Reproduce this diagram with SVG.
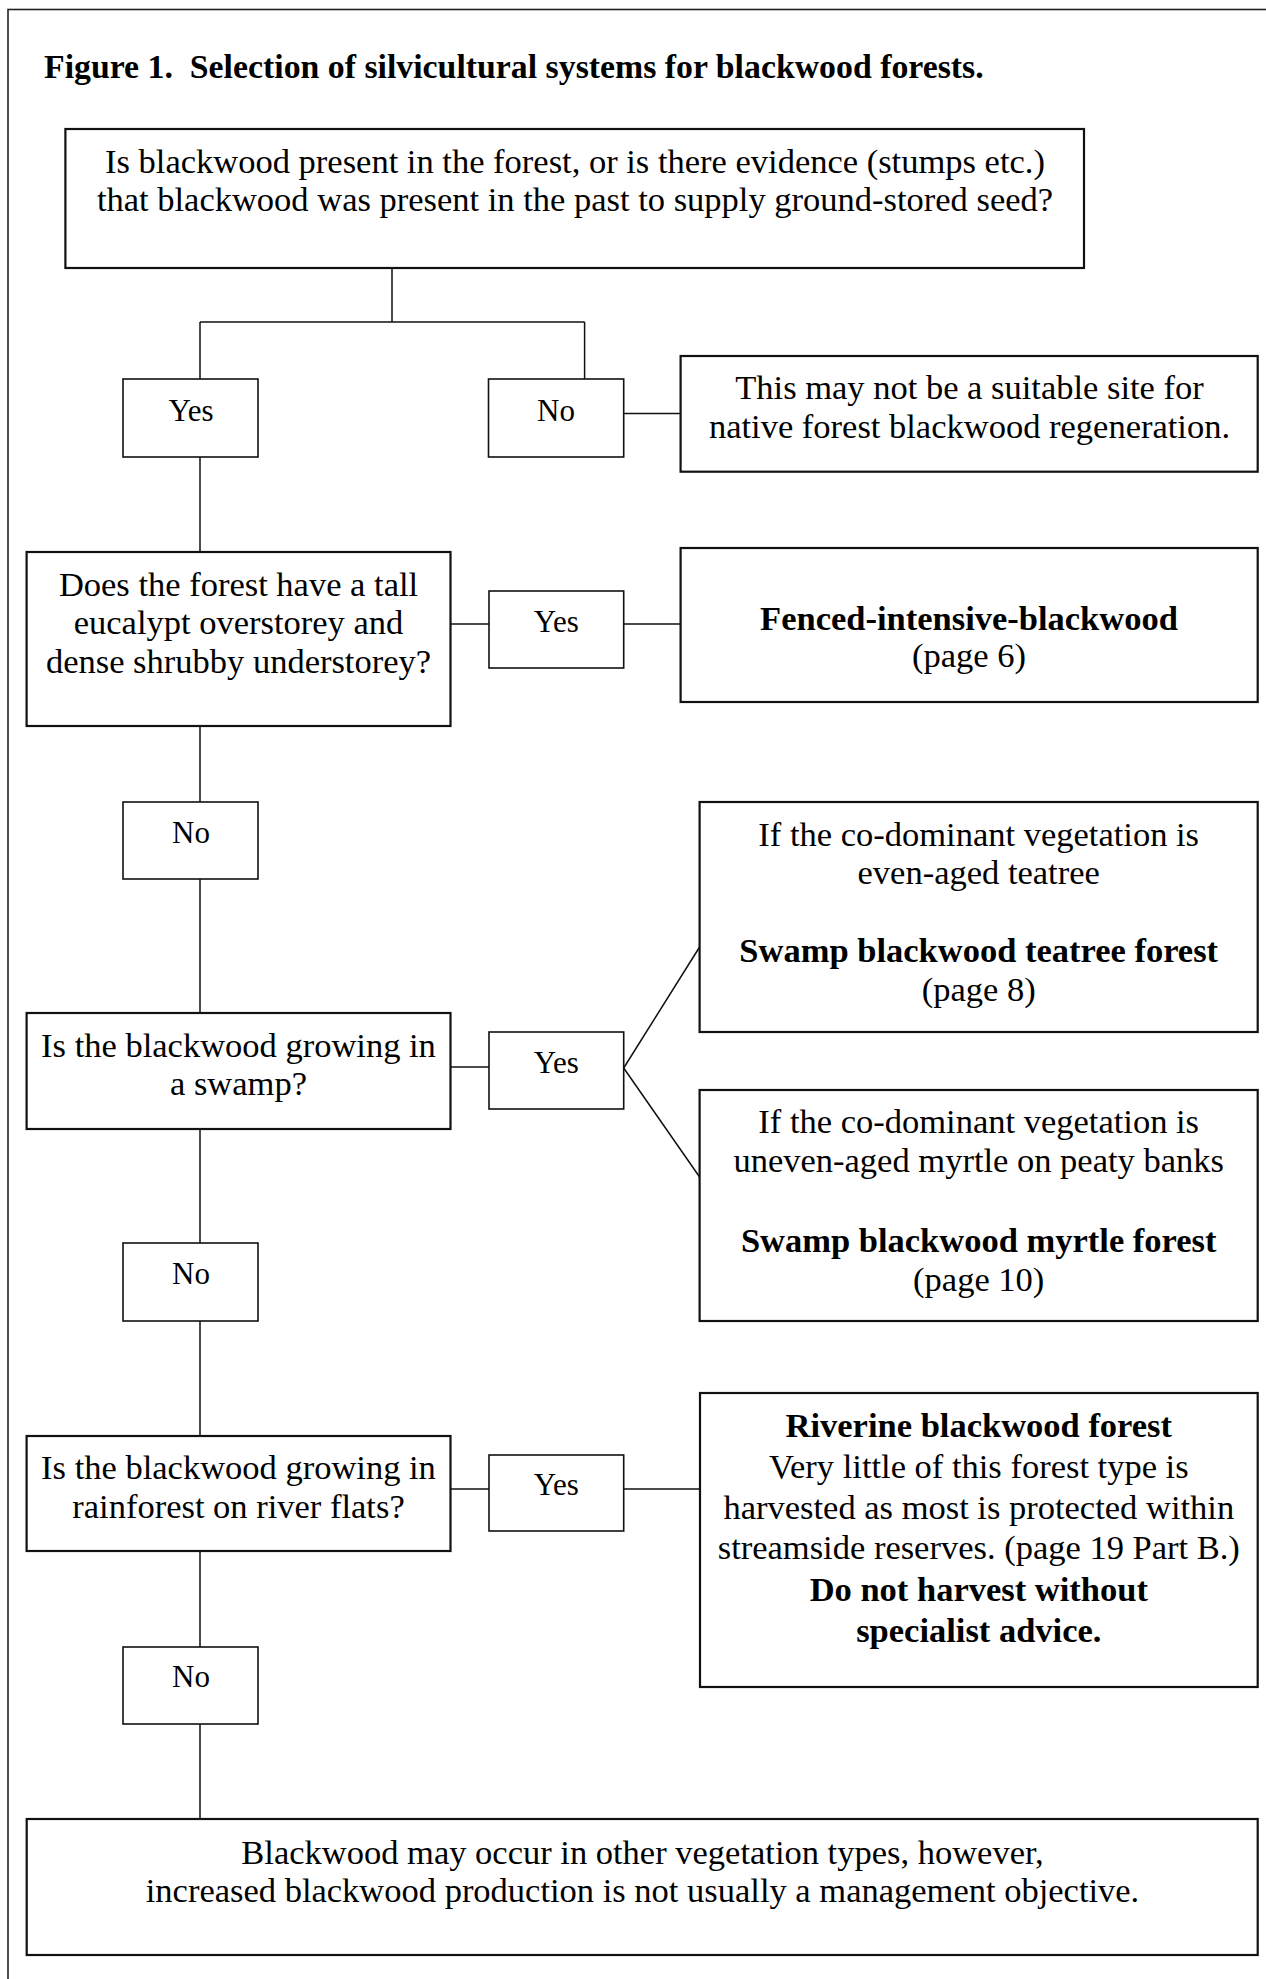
<svg xmlns="http://www.w3.org/2000/svg" width="1266" height="1979" viewBox="0 0 1266 1979">
<style>
.frame{fill:none;stroke:#222;stroke-width:1.6}
.box{fill:#fff;stroke:#111;stroke-width:2.2}
.sbox{fill:#fff;stroke:#111;stroke-width:1.6}
.conn{fill:none;stroke:#111;stroke-width:1.5}
text{font-family:"Liberation Serif","Times New Roman",serif;fill:#000}
.t{font-size:34.5px;text-anchor:middle}
.b{font-weight:bold}
.lbl{font-size:31px;text-anchor:middle}
.title{font-size:33.8px;font-weight:bold}
</style>
<rect x="8" y="9.5" width="1270" height="2000" fill="#fff" class="frame"/>
<g id="title"><text class="title" x="44" y="78" xml:space="preserve">Figure 1.  Selection of silvicultural systems for blackwood forests.</text></g>
<g id="connectors">
<path class="conn" d="M392,268V322M200,322H584.6M200,322V379M584.6,322V379"/>
<path class="conn" d="M623.7,413.5H680.6"/>
<path class="conn" d="M200,457V552"/>
<path class="conn" d="M450.5,624H489M623.7,624H680.6"/>
<path class="conn" d="M200,726V802M200,879V1013"/>
<path class="conn" d="M450.5,1067H489"/>
<path class="conn" d="M623.7,1068L699.6,947M623.7,1068L699.6,1177"/>
<path class="conn" d="M200,1129V1243M200,1321V1436"/>
<path class="conn" d="M450.5,1489H489M623.7,1489H700"/>
<path class="conn" d="M200,1551V1647M200,1724V1819"/>
</g>
<g id="q1"><rect class="box" x="65.4" y="129" width="1018.6" height="139"/>
<text class="t" x="575" y="172.7">Is blackwood present in the forest, or is there evidence (stumps etc.)</text>
<text class="t" x="575" y="211">that blackwood was present in the past to supply ground-stored seed?</text></g>
<g id="yes1"><rect class="sbox" x="123" y="379" width="135" height="78"/><text class="lbl" x="191" y="420.7">Yes</text></g>
<g id="no1"><rect class="sbox" x="488.5" y="379" width="135.2" height="78"/><text class="lbl" x="556" y="420.7">No</text></g>
<g id="unsuitable"><rect class="box" x="680.6" y="356" width="577.1" height="115.7"/>
<text class="t" x="969.5" y="399.3">This may not be a suitable site for</text>
<text class="t" x="969.5" y="437.7">native forest blackwood regeneration.</text></g>
<g id="q2"><rect class="box" x="26.6" y="552" width="423.9" height="174"/>
<text class="t" x="238.5" y="595.7">Does the forest have a tall</text>
<text class="t" x="238.5" y="634.3">eucalypt overstorey and</text>
<text class="t" x="238.5" y="673.3">dense shrubby understorey?</text></g>
<g id="yes2"><rect class="sbox" x="489" y="591" width="134.7" height="77"/><text class="lbl" x="556.3" y="631.7">Yes</text></g>
<g id="fenced"><rect class="box" x="680.6" y="548" width="577.1" height="154"/>
<text class="t b" x="969" y="629.5">Fenced-intensive-blackwood</text>
<text class="t" x="969" y="667">(page 6)</text></g>
<g id="no2"><rect class="sbox" x="123" y="802" width="135" height="77"/><text class="lbl" x="191" y="842.7">No</text></g>
<g id="q3"><rect class="box" x="26.6" y="1013" width="423.9" height="116"/>
<text class="t" x="238.5" y="1056.5">Is the blackwood growing in</text>
<text class="t" x="238.5" y="1095">a swamp?</text></g>
<g id="yes3"><rect class="sbox" x="489" y="1032" width="134.7" height="77"/><text class="lbl" x="556.3" y="1072.7">Yes</text></g>
<g id="teatree"><rect class="box" x="699.6" y="802" width="558.1" height="230"/>
<text class="t" x="978.7" y="845.7">If the co-dominant vegetation is</text>
<text class="t" x="978.7" y="884">even-aged teatree</text>
<text class="t b" x="978.7" y="962.3">Swamp blackwood teatree forest</text>
<text class="t" x="978.7" y="1000.5">(page 8)</text></g>
<g id="myrtle"><rect class="box" x="699.6" y="1090" width="558.1" height="231"/>
<text class="t" x="978.7" y="1133.3">If the co-dominant vegetation is</text>
<text class="t" x="978.7" y="1171.7">uneven-aged myrtle on peaty banks</text>
<text class="t b" x="978.7" y="1252.3">Swamp blackwood myrtle forest</text>
<text class="t" x="978.7" y="1290.5">(page 10)</text></g>
<g id="no3"><rect class="sbox" x="123" y="1243" width="135" height="78"/><text class="lbl" x="191" y="1284.3">No</text></g>
<g id="q4"><rect class="box" x="26.6" y="1436" width="423.9" height="115"/>
<text class="t" x="238.5" y="1478.5">Is the blackwood growing in</text>
<text class="t" x="238.5" y="1518">rainforest on river flats?</text></g>
<g id="yes4"><rect class="sbox" x="489" y="1455" width="134.7" height="76"/><text class="lbl" x="556.3" y="1495">Yes</text></g>
<g id="riverine"><rect class="box" x="700" y="1393" width="557.7" height="294"/>
<text class="t b" x="978.8" y="1437">Riverine blackwood forest</text>
<text class="t" x="978.8" y="1477.5">Very little of this forest type is</text>
<text class="t" x="978.8" y="1518.5">harvested as most is protected within</text>
<text class="t" x="978.8" y="1559">streamside reserves. (page 19 Part B.)</text>
<text class="t b" x="978.8" y="1601">Do not harvest without</text>
<text class="t b" x="978.8" y="1641.5">specialist advice.</text></g>
<g id="no4"><rect class="sbox" x="123" y="1647" width="135" height="77"/><text class="lbl" x="191" y="1687.3">No</text></g>
<g id="other"><rect class="box" x="26.7" y="1819" width="1231" height="136"/>
<text class="t" x="642.5" y="1864">Blackwood may occur in other vegetation types, however,</text>
<text class="t" x="642.5" y="1901.7">increased blackwood production is not usually a management objective.</text></g>
</svg>
